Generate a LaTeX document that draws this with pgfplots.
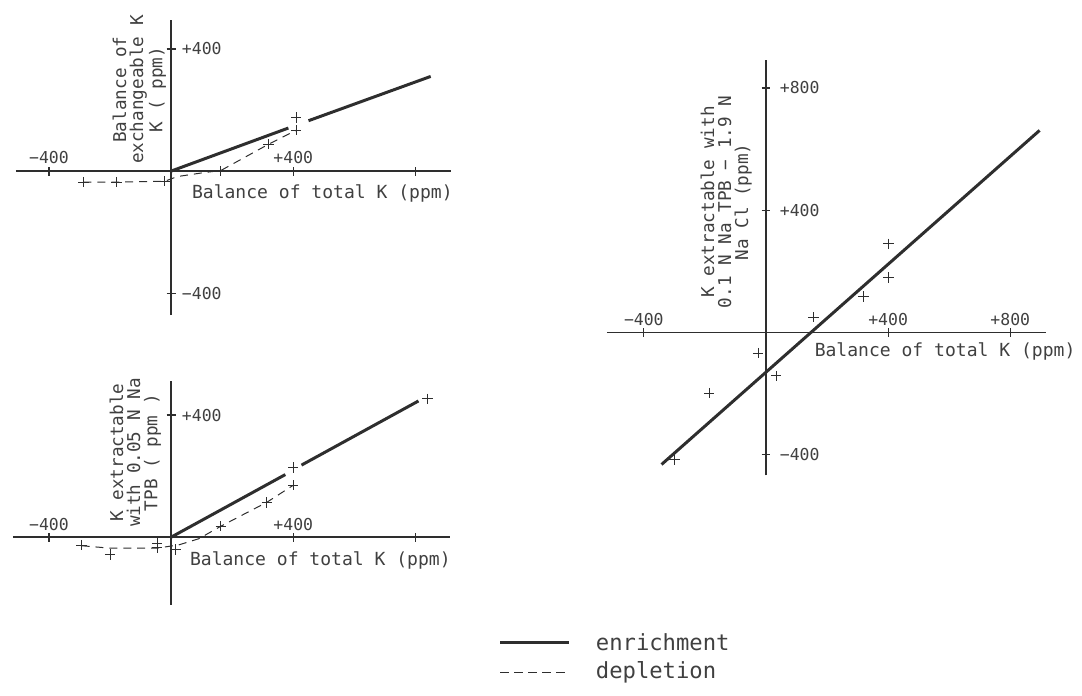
\documentclass[border=0pt]{standalone}
\usepackage{fontspec}
\setmainfont{DejaVu Sans Mono}
\usepackage{pgfplots}
\pgfplotsset{compat=1.18}
\definecolor{ink}{gray}{0.18}
\definecolor{txt}{gray}{0.25}
\pgfplotsset{
 panel/.style={
  axis lines=middle,
  axis line style={-, ink, line width=0.7bp},
  x=0.1535bp, y=0.1535bp,
  enlargelimits=false, clip=false,
  tick align=center, major tick length=4.5bp,
  tick style={ink, line width=0.6bp},
  every tick label/.append style={font=\fontsize{8.3}{10}\selectfont, text=txt},
  xticklabel style={anchor=south, yshift=2.2bp},
  yticklabel style={anchor=west, xshift=4.2bp},
 },
 enr/.style={ink, line width=1.5bp},
 dep/.style={ink, line width=0.5bp, dash pattern=on 4bp off 3bp},
 pts/.style={only marks, mark=+, mark size=2.6bp, mark options={ink, line width=0.5bp, solid}},
}
\begin{document}
\begin{tikzpicture}[x=0.5bp,y=-0.5bp]
\path (0,0) rectangle (1082,699);
\coordinate (O1) at (172,172);
\coordinate (O2) at (172,540);
\coordinate (O3) at (770,334);
% ---------- panel 1
\begin{axis}[panel, at={(O1)}, anchor=origin,
  xmin=-508, xmax=915, ymin=-472, ymax=495,
  xtick={-400,400,800}, xticklabels={−400,+400,{}},
  ytick={-400,400}, yticklabels={−400,+400}]
\addplot[enr] coordinates {(0,0) (384,141)};
\addplot[enr] coordinates {(450,165) (850,310)};
\addplot[dep] coordinates {(-287,-36) (-179,-36) (-20,-33) (20,-18) (100,-6) (163,2) (319,88) (410,134)};
\addplot[pts] coordinates {(-287,-36) (-179,-36) (-20,-33) (163,0) (319,88) (410,134) (410,176)};
\end{axis}
% ---------- panel 2
\begin{axis}[panel, at={(O2)}, anchor=origin,
  xmin=-518, xmax=912, ymin=-221, ymax=511,
  xtick={-400,400,800}, xticklabels={−400,+400,{}},
  ytick={400}, yticklabels={+400}]
\addplot[enr] coordinates {(0,0) (374,205)};
\addplot[enr] coordinates {(427,236) (810,446)};
\addplot[dep] coordinates {(-293,-28) (-200,-36) (-46,-36) (26,-25) (91,-5) (163,36) (313,114) (400,170)};
\addplot[pts] coordinates {(-293,-26) (-200,-57) (-46,-20) (-46,-34) (16,-40) (163,36) (313,114) (400,170) (400,228) (840,453)};
\end{axis}
% ---------- panel 3
\begin{axis}[panel, at={(O3)}, anchor=origin,
  xmin=-521, xmax=918, ymin=-469, ymax=892,
  xtick={-400,400,800}, xticklabels={−400,+400,+800},
  ytick={-400,400,800}, yticklabels={−400,+400,+800},
  yticklabel style={xshift=1.5bp}]
\addplot[enr] coordinates {(-342,-433) (896,661)};
\addplot[pts] coordinates {(401,290) (401,179) (319,117) (156,49) (-26,-68) (33,-143) (-186,-199) (-300,-417)};
\end{axis}
% ---------- axis titles
\begin{scope}[every node/.style={text=txt, font=\fontsize{9.1}{9.1}\selectfont}]
\node[anchor=west] at (186,194) {Balance of total K (ppm)};
\node[anchor=west] at (184,563) {Balance of total K (ppm)};
\node[anchor=west] at (812,353) {Balance of total K (ppm)};
\end{scope}
\begin{scope}[every node/.style={text=txt, rotate=90, align=center, inner sep=0pt, font=\fontsize{8.9}{8.6}\selectfont}]
\node at (140,90) {Balance of\\exchangeable K\\K ( ppm)};
\node at (136,455) {K extractable\\with 0.05 N Na\\TPB ( ppm )};
\node at (730,203) {K extractable with\\0.1 N Na TPB − 1.9 N\\Na Cl (ppm)};
\end{scope}
% ---------- legend
\draw[ink, line width=1.5bp] (503,646) -- (572,646);
\draw[ink, line width=0.6bp, dash pattern=on 4.5bp off 2.5bp] (503,676) -- (572,676);
\begin{scope}[every node/.style={text=txt, anchor=west, font=\fontsize{11.2}{11.2}\selectfont}]
\node at (592,646) {enrichment};
\node at (592,676) {depletion};
\end{scope}
\end{tikzpicture}
\end{document}
